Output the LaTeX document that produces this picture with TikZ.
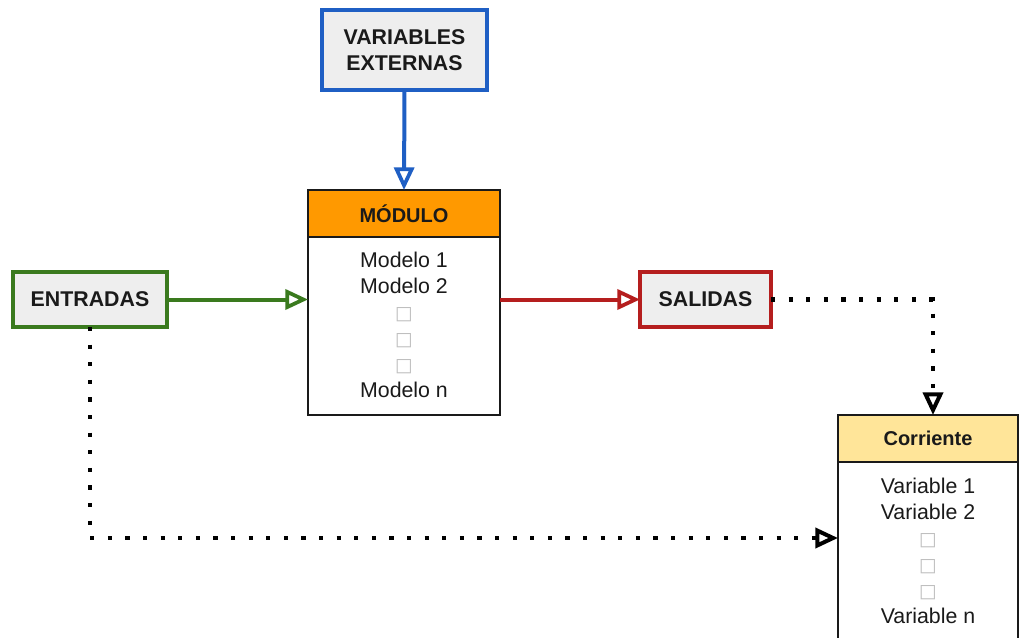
\documentclass[tikz,border=0pt]{standalone}
\usepackage{fontspec}
\setmainfont{Liberation Sans}
\newfontfamily\dejavu{DejaVu Sans}
\usetikzlibrary{arrows.meta,calc}
\definecolor{cblue}{HTML}{1F5FC4}
\definecolor{cgreen}{HTML}{3A7A1E}
\definecolor{cred}{HTML}{B51E1E}
\definecolor{corange}{HTML}{FF9900}
\definecolor{cyellow}{HTML}{FFE599}
\definecolor{cgray}{HTML}{EEEEEE}
\definecolor{cdark}{HTML}{1A1A1A}
\tikzset{
  lbl/.style={font=\fontsize{16}{19.5}\selectfont\bfseries, align=center, inner sep=0pt, outer sep=0pt, text=cdark},
  cbox/.style={rectangle, draw=#1, line width=3pt, fill=cgray, inner sep=0pt, outer sep=0pt},
  hbox/.style={rectangle, draw=cdark, line width=1.3pt, fill=#1, inner sep=0pt, outer sep=0pt},
  bodytxt/.style={font=\fontsize{16}{19.5}\selectfont, align=center, inner sep=0pt, text=cdark},
  conn/.style={line width=3pt, draw=#1, -{Triangle[open, length=17pt, width=15pt, line width=2.8pt]}},
  dotconn/.style={line width=3.2pt, draw=black, dash pattern=on 3.2pt off 10pt, -{Triangle[open, length=17pt, width=15pt, line width=3pt]}}
}
\newcommand{\tofu}{{\dejavu\fontsize{14}{19.5}\selectfont\textcolor{black!25}{□}}}
\begin{document}
\begin{tikzpicture}[x=0.75pt,y=-0.75pt]
\clip (0,0) rectangle (1020,638);
\useasboundingbox (0,0) rectangle (1020,638);
\fill[white] (0,0) rectangle (1020,638);
% boxes
\node[cbox=cblue, minimum width=123.75pt, minimum height=60pt] (ve) at (404.5,50) {};
\node[lbl] at (ve.center) {VARIABLES\\EXTERNAS};
\node[cbox=cgreen, minimum width=115.5pt, minimum height=41.25pt] (ent) at (90,299.5) {};
\node[lbl] at (ent.center) {ENTRADAS};
\node[cbox=cred, minimum width=98.25pt, minimum height=41.25pt] (sal) at (705.5,299.5) {};
\node[lbl] at (sal.center) {SALIDAS};
% module
\node[hbox=white, minimum width=144pt, minimum height=133.5pt] (modbody) at (404,326) {};
\node[hbox=corange, minimum width=144pt, minimum height=35.25pt] (modhead) at (404,213.5) {};
\node[lbl, font=\fontsize{15}{19.5}\selectfont\bfseries] at (modhead.center) {MÓDULO};
\node[bodytxt] (modtxt) at (404,325) {Modelo 1\\Modelo 2\\\tofu\\\tofu\\\tofu\\Modelo n};
% corriente
\node[hbox=white, minimum width=135pt, minimum height=148.5pt] (corbody) at (928,561) {};
\node[hbox=cyellow, minimum width=135pt, minimum height=35.25pt] (corhead) at (928,438.5) {};
\node[lbl, font=\fontsize{15}{19.5}\selectfont\bfseries] at (corhead.center) {Corriente};
\node[bodytxt] (cortxt) at (928,551) {Variable 1\\Variable 2\\\tofu\\\tofu\\\tofu\\Variable n};
% connectors
\draw[conn=cblue] (ve.south) -- (modhead.north);
\draw[conn=cgreen] (ent.east) -- (ent.east -| modbody.west);
\draw[conn=cred] (modbody.east |- sal.west) -- (sal.west);
\coordinate (cin) at (838,538);
\coordinate (ctop) at ($(corhead.north)+(5,0)$);
\draw[dotconn] (sal.east) -| (ctop);
\draw[dotconn] (ent.south) |- (cin);
\end{tikzpicture}
\end{document}
